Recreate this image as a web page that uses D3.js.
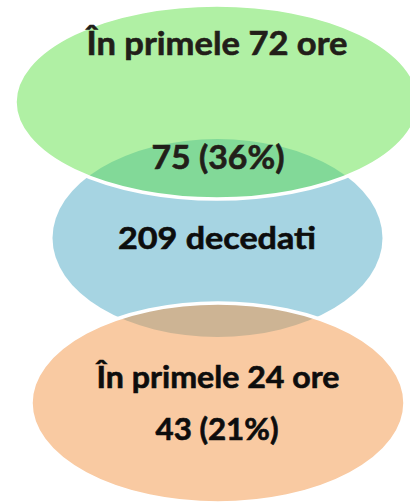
<!DOCTYPE html>
<html>
<head>
<meta charset="utf-8">
<script src="https://cdn.jsdelivr.net/npm/d3@7"></script>
<style>
  html, body { margin: 0; padding: 0; background: #fff; }
  svg { display: block; }
  text { font-family: Lato, "Open Sans", sans-serif; font-weight: bold; }
</style>
</head>
<body>
<svg id="chart" width="410" height="502"></svg>
<script>
// dados
const grupos = ["primele72", "total", "primele24"];
const titluri = ["În primele 72 ore", "", "În primele 24 ore"];
const valori = [75, 209, 43];
const procente = [36, null, 21];
const eticheta_total = "decedati";

const culori = {
  primele72: "#b0f0a4",
  total: "#a6d4e2",
  primele24: "#f9caa2",
  suprapunere72: "#82d998",
  suprapunere24: "#cdb494"
};

// forme
const elipse = {
  primele72: { cx: 217, cy: 102, rx: 201, ry: 96 },
  total: { cx: 217.5, cy: 238, rx: 165, ry: 99 },
  primele24: { cx: 218, cy: 403, rx: 186, ry: 99 }
};

const svg = d3.select("#chart");
const defs = svg.append("defs");

["primele72", "primele24"].forEach(g => {
  const e = elipse[g];
  defs.append("clipPath").attr("id", "clip-" + g)
    .append("ellipse")
    .attr("cx", e.cx).attr("cy", e.cy).attr("rx", e.rx).attr("ry", e.ry);
});

// ordinea de desen: mijloc, apoi sus si jos
const ordine = ["total", "primele72", "primele24"];

svg.selectAll("ellipse.set")
  .data(ordine)
  .join("ellipse")
  .attr("class", "set")
  .attr("cx", d => elipse[d].cx)
  .attr("cy", d => elipse[d].cy)
  .attr("rx", d => elipse[d].rx)
  .attr("ry", d => elipse[d].ry)
  .attr("fill", d => culori[d]);

// suprapuneri
[["primele72", "suprapunere72"], ["primele24", "suprapunere24"]].forEach(([g, c]) => {
  const e = elipse.total;
  svg.append("ellipse")
    .attr("clip-path", "url(#clip-" + g + ")")
    .attr("cx", e.cx).attr("cy", e.cy).attr("rx", e.rx).attr("ry", e.ry)
    .attr("fill", culori[c]);
});

// contur alb
svg.selectAll("ellipse.contur")
  .data(["primele72", "primele24"])
  .join("ellipse")
  .attr("class", "contur")
  .attr("cx", d => elipse[d].cx)
  .attr("cy", d => elipse[d].cy)
  .attr("rx", d => elipse[d].rx + 1)
  .attr("ry", d => elipse[d].ry + 1)
  .attr("fill", "none")
  .attr("stroke", "#fff")
  .attr("stroke-width", 3.5);

// texte
const fmt = (v, p) => p == null ? v + " " + eticheta_total : v + " (" + p + "%)";

const texte = [
  { t: titluri[0], x: 217, y: 55, w: 261, s: 32, c: "#221e19" },
  { t: fmt(valori[0], procente[0]), x: 218, y: 169, w: 133, s: 32, c: "#221e19" },
  { t: fmt(valori[1], procente[1]), x: 217, y: 249, w: 198, s: 30, c: "#0d0d0d" },
  { t: titluri[2], x: 218, y: 388, w: 243, s: 30, c: "#0d0d0d" },
  { t: fmt(valori[2], procente[2]), x: 217, y: 440, w: 123, s: 30, c: "#0d0d0d" }
];

svg.selectAll("text.lbl")
  .data(texte)
  .join("text")
  .attr("class", "lbl")
  .attr("x", d => d.x)
  .attr("y", d => d.y)
  .attr("text-anchor", "middle")
  .attr("font-size", d => d.s)
  .attr("fill", d => d.c)
  .attr("stroke", d => d.c)
  .attr("stroke-width", 0.6)
  .attr("textLength", d => d.w)
  .attr("lengthAdjust", "spacingAndGlyphs")
  .text(d => d.t);
</script>
</body>
</html>
